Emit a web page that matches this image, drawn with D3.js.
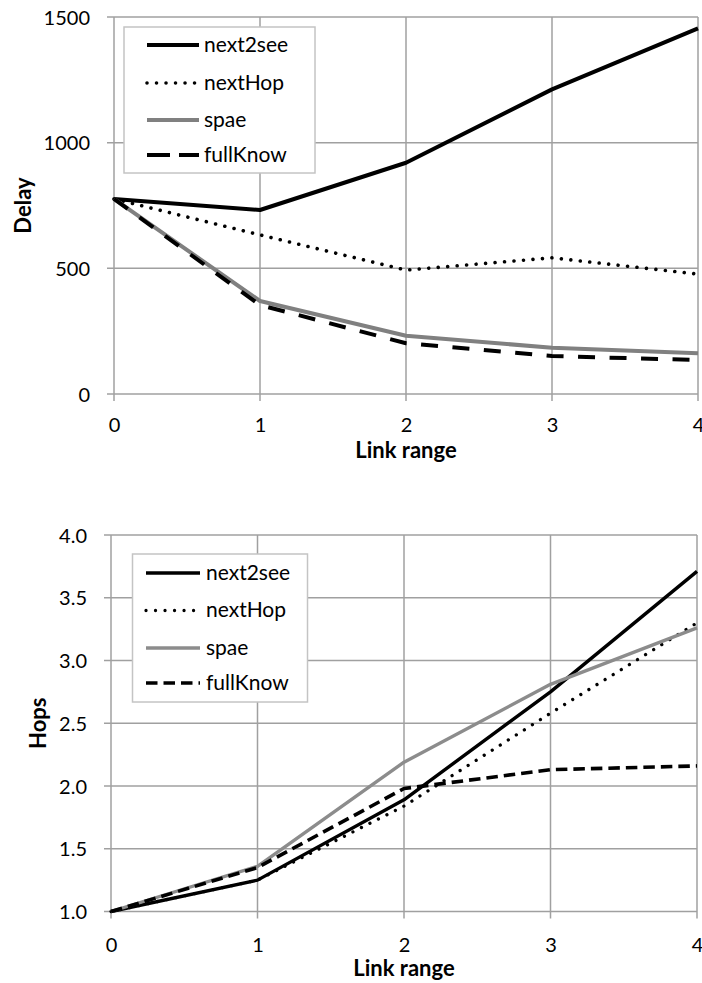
<!DOCTYPE html>
<html><head><meta charset="utf-8">
<script src="https://cdn.jsdelivr.net/npm/d3@7"></script>
<style>
html,body{margin:0;padding:0;background:#fff;}
svg{display:block;font-family:Lato,"Open Sans",sans-serif;}
</style></head>
<body><svg id="chart" width="702" height="983"></svg>
<script>
// ---- data ----
const linkRange = [0, 1, 2, 3, 4];
const seriesNames = ["next2see", "nextHop", "spae", "fullKnow"];
const delayNext2see = [776, 732, 920, 1212, 1455];
const delayNextHop  = [776, 633, 493, 542, 477];
const delaySpae     = [776, 370, 232, 184, 162];
const delayFullKnow = [776, 354, 202, 151, 135];
const hopsNext2see = [1.0, 1.25, 1.89, 2.75, 3.71];
const hopsNextHop  = [1.0, 1.25, 1.84, 2.58, 3.30];
const hopsSpae     = [1.0, 1.36, 2.19, 2.81, 3.26];
const hopsFullKnow = [1.0, 1.35, 1.98, 2.13, 2.16];
const delayTicks = [0, 500, 1000, 1500];
const hopsTicks = [1.0, 1.5, 2.0, 2.5, 3.0, 3.5, 4.0];

const svg = d3.select("#chart");
const gridColor = "#a0a0a0";

function drawChart(cfg) {
  const g = svg.append("g");
  const x = d3.scaleLinear().domain([0, 4]).range([cfg.left, cfg.right]);
  const y = d3.scaleLinear().domain(cfg.yDomain).range([cfg.bottom, cfg.top]);

  // gridlines
  g.selectAll(".hg").data(cfg.yTicks).enter().append("line")
    .attr("x1", cfg.left - 7).attr("x2", cfg.right)
    .attr("y1", d => y(d)).attr("y2", d => y(d))
    .attr("stroke", gridColor).attr("stroke-width", 1.5);
  g.selectAll(".vg").data(linkRange).enter().append("line")
    .attr("x1", d => x(d)).attr("x2", d => x(d))
    .attr("y1", cfg.top).attr("y2", cfg.bottom + 7)
    .attr("stroke", gridColor).attr("stroke-width", 1.5);

  // axes labels via d3 axes (tick text only)
  const yAxis = d3.axisLeft(y).tickValues(cfg.yTicks).tickFormat(cfg.yFmt).tickSize(0).tickPadding(cfg.left - cfg.yLabelRight);
  const ya = g.append("g").attr("transform", `translate(${cfg.left},0)`).call(yAxis);
  ya.select(".domain").remove();
  ya.selectAll("text").attr("font-size", 20).attr("fill", "#000").attr("font-family", "Lato").attr("dy", "0.36em");

  const xAxis = d3.axisBottom(x).tickValues(linkRange).tickFormat(d3.format("d")).tickSize(0).tickPadding(0);
  const xa = g.append("g").attr("transform", `translate(0,${cfg.bottom})`).call(xAxis);
  xa.select(".domain").remove();
  xa.selectAll("text").attr("font-size", 20).attr("fill", "#000").attr("font-family", "Lato")
    .attr("y", cfg.xLabelBase).attr("dy", 0);

  // axis titles
  g.append("text").attr("x", (cfg.left + cfg.right) / 2).attr("y", cfg.xTitleBase)
    .attr("text-anchor", "middle").attr("font-weight", "bold").attr("font-size", 22).text("Link range");
  g.append("text").attr("transform", `translate(${cfg.yTitleX},${(cfg.top + cfg.bottom) / 2}) rotate(-90)`)
    .attr("text-anchor", "middle").attr("font-weight", "bold").attr("font-size", 22).text(cfg.yTitle);

  // lines
  const line = d3.line().x((d, i) => x(linkRange[i])).y(d => y(d));
  cfg.series.forEach(s => {
    g.append("path").attr("d", line(s.values)).attr("fill", "none")
      .attr("stroke", s.color).attr("stroke-width", s.width)
      .attr("stroke-dasharray", s.dash || null)
      .attr("stroke-linecap", s.cap || "butt")
      .attr("stroke-linejoin", "round");
  });

  // legend
  const lg = g.append("g");
  lg.append("rect").attr("x", cfg.legend.x).attr("y", cfg.legend.y)
    .attr("width", cfg.legend.w).attr("height", cfg.legend.h)
    .attr("fill", "#fff").attr("stroke", "#c4c4c4").attr("stroke-width", 1.5);
  cfg.series.forEach((s, i) => {
    const yy = cfg.legend.rows[i];
    lg.append("line").attr("x1", cfg.legend.sx1).attr("x2", cfg.legend.sx2)
      .attr("y1", yy).attr("y2", yy)
      .attr("stroke", s.color).attr("stroke-width", s.width)
      .attr("stroke-dasharray", s.legendDash || s.dash || null)
      .attr("stroke-linecap", s.cap || "butt");
    lg.append("text").attr("x", cfg.legend.tx).attr("y", yy).attr("dy", "0.33em")
      .attr("font-size", 21).attr("fill", "#000").text(seriesNames[i]);
  });
}

drawChart({
  left: 114, right: 698, top: 17, bottom: 394,
  yDomain: [0, 1500], yTicks: delayTicks, yFmt: d3.format("d"),
  yLabelRight: 90, xLabelBase: 38, xTitleBase: 458, yTitleX: 31, yTitle: "Delay",
  series: [
    {values: delayNext2see, color: "#000", width: 4},
    {values: delayNextHop, color: "#000", width: 3.6, dash: "0.01 9.5", cap: "round"},
    {values: delaySpae, color: "#808080", width: 4},
    {values: delayFullKnow, color: "#000", width: 4, dash: "17 14.5", legendDash: "23 9"}
  ],
  legend: {x: 124, y: 27, w: 191, h: 146, rows: [45, 83, 120, 155], sx1: 147, sx2: 199, tx: 204}
});

drawChart({
  left: 111, right: 697, top: 535, bottom: 911.5,
  yDomain: [1, 4], yTicks: hopsTicks, yFmt: d3.format(".1f"),
  yLabelRight: 87, xLabelBase: 40, xTitleBase: 976, yTitleX: 46, yTitle: "Hops",
  series: [
    {values: hopsNext2see, color: "#000", width: 3.4},
    {values: hopsNextHop, color: "#000", width: 3.3, dash: "0.01 9.5", cap: "round"},
    {values: hopsSpae, color: "#8c8c8c", width: 3.4},
    {values: hopsFullKnow, color: "#000", width: 3.6, dash: "11.5 6"}
  ],
  legend: {x: 132.5, y: 554, w: 175, h: 148, rows: [573, 610.5, 648, 683], sx1: 146, sx2: 200, tx: 206}
});
</script>
</body></html>
